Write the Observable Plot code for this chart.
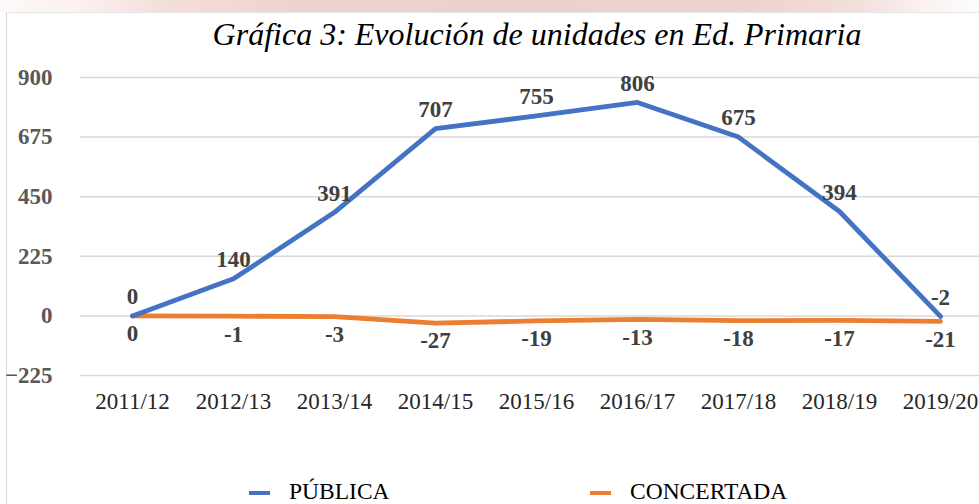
<!DOCTYPE html>
<html>
<head>
<meta charset="utf-8">
<script src="https://cdn.jsdelivr.net/npm/d3@7"></script>
<script src="https://cdn.jsdelivr.net/npm/@observablehq/plot@0.6"></script>
<style>
  html, body { margin: 0; padding: 0; background: #fff; overflow: hidden; width: 979px; height: 504px; }
  #wrap { position: relative; width: 979px; height: 504px; overflow: hidden; font-family: "Liberation Serif", "Times New Roman", serif; }
  #band { position: absolute; left: 0; top: 0; width: 979px; height: 12px;
    background: linear-gradient(90deg, #fdf8f7 0px, #fbf1ef 80px, #f4dfdc 160px, #eed2ce 300px, #ecd0cc 520px, #eed3d0 760px, #f3dfdc 860px, #fbf3f2 930px, #fefcfc 979px); }
  #card { position: absolute; left: 6px; top: 12px; width: 990px; height: 500px; border-left: 1.5px solid #d9d9d9; border-top: 1.5px solid #e3e3e3; background: #fff; }
  #title { position: absolute; left: 0; width: 1074px; top: 14px; text-align: center; font-family: "Liberation Serif", "DejaVu Serif", serif; font-style: italic; font-weight: normal; font-size: 32px; line-height: 40px; color: #000; white-space: nowrap; }
  #chart { position: absolute; left: 0; top: 60px; width: 991px; }
  #chart svg { max-width: none !important; display: block; }
  .leg { position: absolute; top: 478px; font-size: 23.5px; line-height: 26px; color: #000; white-space: nowrap; }
  .sw { position: absolute; top: 491px; width: 21px; height: 4px; }
</style>
</head>
<body>
<div id="wrap">
  <div id="band"></div>
  <div id="card"></div>
  <div id="title">Gráfica 3: Evolución de unidades en Ed. Primaria</div>
  <div id="chart"></div>
  <div class="sw" style="left:249px;background:#4472C4"></div>
  <div class="leg" style="left:289px">PÚBLICA</div>
  <div class="sw" style="left:590px;background:#ED7D31"></div>
  <div class="leg" style="left:630px">CONCERTADA</div>
</div>
<script>
const years = ["2011/12","2012/13","2013/14","2014/15","2015/16","2016/17","2017/18","2018/19","2019/20"];
const publica = [0, 140, 391, 707, 755, 806, 675, 394, -2];
const concertada = [0, -1, -3, -27, -19, -13, -18, -17, -21];
const yTicks = [-225, 0, 225, 450, 675, 900];

const pub = years.map((y, i) => ({year: y, value: publica[i]}));
const con = years.map((y, i) => ({year: y, value: concertada[i]}));

const font = "Liberation Serif, Times New Roman, serif";

const chart = Plot.plot({
  width: 991,
  height: 360,
  marginLeft: 80,
  marginRight: 0,
  marginTop: 17,
  marginBottom: 45,
  style: {fontFamily: font, background: "transparent", overflow: "visible", maxWidth: "none"},
  x: {type: "point", domain: years, padding: 0.5, label: null},
  y: {domain: [-225, 900], label: null},
  marks: [
    Plot.ruleY(yTicks, {stroke: "#d9d9d9", strokeWidth: 1.5}),
    Plot.axisY({ticks: yTicks, tickSize: 0, tickPadding: 28, fontSize: 23, fontWeight: "bold", fill: "#595959", label: null}),
    Plot.axisX({tickSize: 0, tickPadding: 17, fontSize: 23, fill: "#262626", label: null}),
    Plot.line(con, {x: "year", y: "value", stroke: "#ED7D31", strokeWidth: 4.8, strokeLinejoin: "round"}),
    Plot.line(pub, {x: "year", y: "value", stroke: "#4472C4", strokeWidth: 4.8, strokeLinejoin: "round"}),
    Plot.text(pub, {x: "year", y: "value", text: d => String(d.value), dy: -19, fontSize: 23, fontWeight: "bold", fill: "#404040"}),
    Plot.text(con, {x: "year", y: "value", text: d => String(d.value), dy: 18, fontSize: 23, fontWeight: "bold", fill: "#404040"})
  ]
});
document.getElementById("chart").appendChild(chart);
</script>
</body>
</html>
